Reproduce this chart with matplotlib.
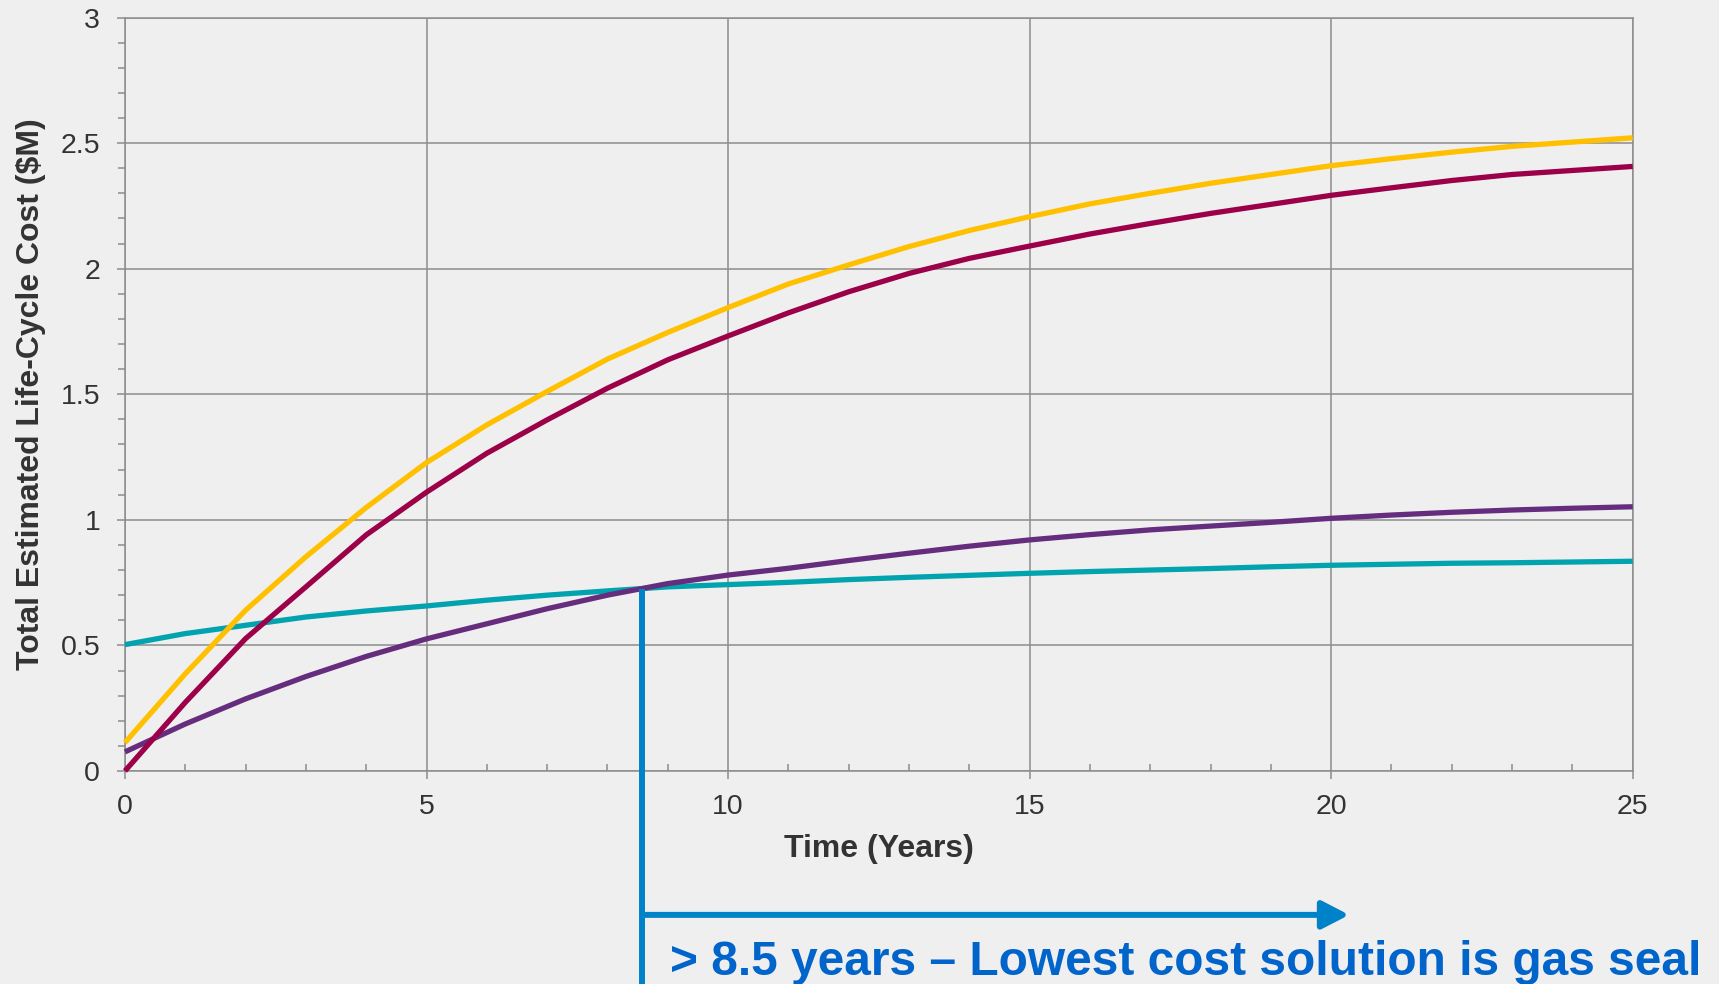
import numpy as np
import matplotlib
matplotlib.use("Agg")
import matplotlib.pyplot as plt
from matplotlib.ticker import MultipleLocator, FuncFormatter

# Total estimated life-cycle cost ($M) by year, one series per seal option
years = np.arange(0, 26)
series_yellow = [0.113, 0.387, 0.640, 0.853, 1.049, 1.228, 1.378, 1.511, 1.640, 1.746,
                 1.845, 1.939, 2.015, 2.088, 2.152, 2.207, 2.258, 2.300, 2.340, 2.375,
                 2.410, 2.438, 2.464, 2.487, 2.504, 2.521]
series_crimson = [0.000, 0.273, 0.527, 0.733, 0.940, 1.110, 1.265, 1.398, 1.524, 1.637,
                  1.732, 1.824, 1.908, 1.981, 2.041, 2.090, 2.138, 2.180, 2.220, 2.256,
                  2.292, 2.322, 2.351, 2.375, 2.391, 2.407]
series_purple = [0.076, 0.187, 0.287, 0.376, 0.456, 0.526, 0.586, 0.646, 0.700, 0.746,
                 0.780, 0.807, 0.838, 0.867, 0.895, 0.920, 0.941, 0.960, 0.975, 0.990,
                 1.006, 1.019, 1.030, 1.039, 1.046, 1.052]
series_teal = [0.503, 0.547, 0.580, 0.613, 0.637, 0.657, 0.680, 0.700, 0.717, 0.733,
               0.742, 0.751, 0.762, 0.771, 0.779, 0.787, 0.794, 0.800, 0.806, 0.813,
               0.819, 0.823, 0.827, 0.829, 0.832, 0.835]

x_ticks = [0, 5, 10, 15, 20, 25]
y_ticks = [0, 0.5, 1, 1.5, 2, 2.5, 3]
x_label = "Time (Years)"
y_label = "Total Estimated Life-Cycle Cost ($M)"
callout = "> 8.5 years \u2013 Lowest cost solution is gas seal"
arrow_end_year = 20.3

BG = "#EFEFEF"
GRID = "#8C8C8C"
TXT = "#333333"
BLUE_LINE = "#0082C8"
BLUE_TEXT = "#0064CB"

plt.rcParams["font.family"] = ["Liberation Sans", "DejaVu Sans"]

fig = plt.figure(figsize=(17.19, 9.84), dpi=100, facecolor=BG)
ax = fig.add_axes([0.0727, 0.2165, 0.8771, 0.7657], facecolor=BG)

lw = 3.8
for vals, col in [(series_teal, "#00A3AE"), (series_purple, "#662C7D"),
                  (series_crimson, "#9B0048"), (series_yellow, "#FFC000")]:
    ax.plot(years, vals, color=col, lw=lw, solid_capstyle="butt",
            solid_joinstyle="round", clip_on=False, zorder=3)

ax.set_xlim(0, 25)
ax.set_ylim(0, 3)
ax.set_xticks(x_ticks)
ax.set_yticks(y_ticks)
ax.xaxis.set_minor_locator(MultipleLocator(1))
ax.yaxis.set_minor_locator(MultipleLocator(0.1))
ax.yaxis.set_major_formatter(FuncFormatter(lambda v, p: f"{v:g}"))

ax.grid(True, which="major", color=GRID, lw=1.1, zorder=1)
for s in ax.spines.values():
    s.set_color(GRID)
    s.set_linewidth(1.1)

ax.tick_params(axis="both", which="major", colors=GRID, width=1.1, length=6,
               labelsize=20.5, labelcolor=TXT)
ax.tick_params(axis="y", which="major", direction="out", pad=11.8)
ax.tick_params(axis="x", which="major", direction="out", pad=10.5)
ax.tick_params(axis="y", which="minor", direction="out", length=4.8, width=1.1, colors=GRID)
ax.tick_params(axis="x", which="minor", direction="in", length=4.8, width=1.1, colors=GRID)

ax.set_xlabel(x_label, fontsize=23, fontweight="bold", color=TXT, va="top")
ax.xaxis.set_label_coords(0.5, -0.0836)
ax.set_ylabel(y_label, fontsize=23, fontweight="bold", color=TXT)
ax.yaxis.set_label_coords(-0.0524, 0.5)

# Break-even point between the purple and teal options
diff = np.array(series_purple) - np.array(series_teal)
i = int(np.where(np.diff(np.sign(diff)) > 0)[0][0])
t = diff[i] / (diff[i] - diff[i + 1])
x_cross = years[i] + t
y_cross = series_teal[i] + t * (series_teal[i + 1] - series_teal[i])

trans = ax.get_xaxis_transform()
y_cross_ax = y_cross / 3.0
ax.plot([x_cross, x_cross], [y_cross_ax, -0.32], transform=trans, color=BLUE_LINE,
        lw=4.3, solid_capstyle="butt", clip_on=False, zorder=4)
y_arrow = -0.191
ax.annotate("", xy=(arrow_end_year, y_arrow), xytext=(x_cross + 0.02, y_arrow),
            xycoords=trans, textcoords=trans, annotation_clip=False,
            arrowprops=dict(arrowstyle="-|>,head_length=1.65,head_width=0.85",
                            color=BLUE_LINE, lw=4.3, shrinkA=0, shrinkB=0,
                            capstyle="butt"))
ax.text(9.04, -0.2707, callout, transform=trans, fontsize=34.5, fontweight="bold",
        color=BLUE_TEXT, ha="left", va="baseline", clip_on=False)

fig.savefig("out.png", dpi=100, facecolor=BG)
